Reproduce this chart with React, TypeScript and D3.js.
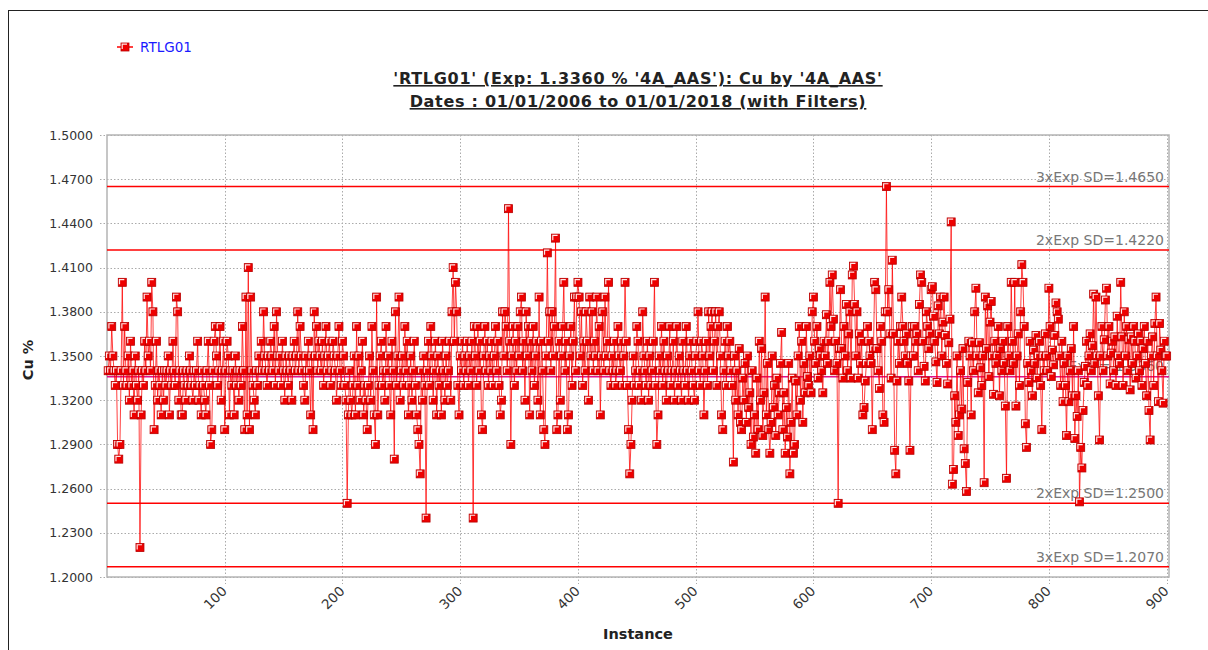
import React from "react";
import * as d3 from "d3";

// Cu % readings for standard RTLG01, by instance (1..900)
const cu001to100 = [
  1.34, 1.35, 1.34, 1.37, 1.35, 1.34, 1.33, 1.34, 1.29, 1.28,
  1.29, 1.34, 1.40, 1.33, 1.37, 1.34, 1.33, 1.35, 1.32, 1.36,
  1.33, 1.34, 1.31, 1.35, 1.33, 1.32, 1.34, 1.22, 1.31, 1.34,
  1.33, 1.36, 1.34, 1.39, 1.35, 1.36, 1.34, 1.40, 1.38, 1.30,
  1.33, 1.36, 1.32, 1.34, 1.33, 1.31, 1.34, 1.32, 1.34, 1.33,
  1.34, 1.35, 1.31, 1.34, 1.33, 1.36, 1.34, 1.33, 1.39, 1.38,
  1.32, 1.34, 1.31, 1.31, 1.34, 1.33, 1.32, 1.34, 1.33, 1.35,
  1.34, 1.33, 1.32, 1.34, 1.33, 1.34, 1.36, 1.32, 1.33, 1.31,
  1.34, 1.33, 1.32, 1.31, 1.34, 1.36, 1.33, 1.29, 1.30, 1.34,
  1.36, 1.37, 1.35, 1.33, 1.34, 1.37, 1.32, 1.34, 1.36, 1.30,
];
const cu101to200 = [
  1.34, 1.36, 1.35, 1.31, 1.34, 1.33, 1.34, 1.31, 1.35, 1.33,
  1.34, 1.32, 1.34, 1.33, 1.37, 1.34, 1.30, 1.39, 1.31, 1.41,
  1.30, 1.39, 1.34, 1.33, 1.32, 1.31, 1.34, 1.33, 1.35, 1.34,
  1.36, 1.34, 1.38, 1.35, 1.34, 1.33, 1.35, 1.34, 1.36, 1.35,
  1.34, 1.37, 1.33, 1.38, 1.35, 1.34, 1.35, 1.33, 1.36, 1.34,
  1.32, 1.35, 1.34, 1.33, 1.35, 1.34, 1.32, 1.35, 1.36, 1.34,
  1.35, 1.38, 1.34, 1.37, 1.35, 1.34, 1.33, 1.32, 1.35, 1.34,
  1.36, 1.34, 1.31, 1.35, 1.30, 1.38, 1.35, 1.37, 1.34, 1.36,
  1.35, 1.34, 1.36, 1.33, 1.35, 1.37, 1.34, 1.35, 1.36, 1.33,
  1.34, 1.36, 1.35, 1.34, 1.32, 1.35, 1.37, 1.34, 1.33, 1.36,
];
const cu201to300 = [
  1.35, 1.33, 1.32, 1.25, 1.31, 1.34, 1.32, 1.31, 1.33, 1.35,
  1.31, 1.37, 1.33, 1.35, 1.32, 1.34, 1.36, 1.31, 1.33, 1.32,
  1.30, 1.33, 1.35, 1.32, 1.37, 1.34, 1.31, 1.29, 1.39, 1.31,
  1.33, 1.35, 1.36, 1.33, 1.34, 1.32, 1.37, 1.34, 1.35, 1.33,
  1.31, 1.36, 1.34, 1.28, 1.38, 1.33, 1.35, 1.39, 1.32, 1.34,
  1.35, 1.33, 1.37, 1.34, 1.36, 1.31, 1.33, 1.35, 1.32, 1.34,
  1.36, 1.33, 1.31, 1.30, 1.29, 1.27, 1.34, 1.32, 1.35, 1.33,
  1.24, 1.34, 1.36, 1.33, 1.37, 1.35, 1.32, 1.34, 1.36, 1.31,
  1.35, 1.33, 1.34, 1.31, 1.36, 1.34, 1.32, 1.35, 1.33, 1.34,
  1.36, 1.32, 1.38, 1.41, 1.36, 1.40, 1.38, 1.33, 1.31, 1.35,
];
const cu301to400 = [
  1.34, 1.36, 1.33, 1.35, 1.34, 1.36, 1.33, 1.35, 1.34, 1.36,
  1.24, 1.37, 1.35, 1.33, 1.37, 1.34, 1.36, 1.31, 1.30, 1.35,
  1.37, 1.34, 1.36, 1.33, 1.35, 1.34, 1.36, 1.33, 1.35, 1.37,
  1.34, 1.36, 1.33, 1.31, 1.32, 1.38, 1.35, 1.38, 1.37, 1.34,
  1.45, 1.36, 1.29, 1.35, 1.37, 1.33, 1.36, 1.34, 1.37, 1.35,
  1.38, 1.39, 1.34, 1.36, 1.32, 1.38, 1.35, 1.37, 1.31, 1.36,
  1.34, 1.37, 1.33, 1.35, 1.36, 1.32, 1.39, 1.31, 1.36, 1.34,
  1.30, 1.29, 1.35, 1.42, 1.36, 1.38, 1.34, 1.38, 1.35, 1.37,
  1.43, 1.30, 1.31, 1.36, 1.32, 1.35, 1.37, 1.40, 1.34, 1.36,
  1.30, 1.31, 1.35, 1.37, 1.33, 1.36, 1.39, 1.34, 1.39, 1.40,
];
const cu401to500 = [
  1.39, 1.35, 1.38, 1.33, 1.36, 1.34, 1.38, 1.36, 1.32, 1.39,
  1.35, 1.38, 1.34, 1.36, 1.35, 1.39, 1.34, 1.37, 1.31, 1.35,
  1.38, 1.34, 1.39, 1.35, 1.36, 1.40, 1.34, 1.33, 1.35, 1.34,
  1.36, 1.33, 1.34, 1.37, 1.35, 1.34, 1.36, 1.33, 1.35, 1.40,
  1.36, 1.33, 1.30, 1.27, 1.29, 1.32, 1.35, 1.33, 1.34, 1.37,
  1.36, 1.33, 1.34, 1.32, 1.38, 1.35, 1.34, 1.33, 1.36, 1.32,
  1.35, 1.33, 1.34, 1.36, 1.40, 1.33, 1.29, 1.31, 1.35, 1.34,
  1.37, 1.33, 1.36, 1.34, 1.32, 1.35, 1.34, 1.37, 1.33, 1.34,
  1.36, 1.32, 1.34, 1.37, 1.33, 1.35, 1.34, 1.32, 1.36, 1.34,
  1.33, 1.37, 1.34, 1.32, 1.35, 1.36, 1.34, 1.33, 1.32, 1.35,
];
const cu501to600 = [
  1.36, 1.38, 1.34, 1.33, 1.36, 1.35, 1.31, 1.34, 1.36, 1.33,
  1.38, 1.35, 1.37, 1.38, 1.34, 1.36, 1.38, 1.33, 1.37, 1.38,
  1.35, 1.31, 1.30, 1.34, 1.36, 1.33, 1.37, 1.35, 1.36, 1.34,
  1.33, 1.278, 1.35, 1.32, 1.34, 1.31, 1.355, 1.305, 1.30, 1.335,
  1.32, 1.345, 1.305, 1.35, 1.315, 1.325, 1.29, 1.34, 1.295, 1.31,
  1.284, 1.335, 1.30, 1.36, 1.32, 1.355, 1.296, 1.325, 1.39, 1.31,
  1.345, 1.30, 1.284, 1.305, 1.35, 1.315, 1.33, 1.296, 1.335, 1.31,
  1.325, 1.345, 1.366, 1.30, 1.325, 1.284, 1.315, 1.295, 1.345, 1.27,
  1.305, 1.335, 1.284, 1.29, 1.333, 1.31, 1.35, 1.37, 1.32, 1.36,
  1.305, 1.345, 1.325, 1.37, 1.336, 1.33, 1.35, 1.325, 1.38, 1.39,
];
const cu601to700 = [
  1.36, 1.345, 1.37, 1.335, 1.355, 1.35, 1.34, 1.325, 1.36, 1.35,
  1.378, 1.345, 1.36, 1.40, 1.37, 1.405, 1.375, 1.34, 1.36, 1.345,
  1.25, 1.355, 1.395, 1.355, 1.335, 1.37, 1.35, 1.385, 1.34, 1.365,
  1.38, 1.335, 1.405, 1.411, 1.385, 1.35, 1.38, 1.335, 1.365, 1.345,
  1.36, 1.31, 1.315, 1.333, 1.345, 1.37, 1.36, 1.35, 1.345, 1.30,
  1.355, 1.40, 1.395, 1.355, 1.34, 1.328, 1.37, 1.36, 1.31, 1.305,
  1.38, 1.465, 1.38, 1.395, 1.365, 1.335, 1.415, 1.365, 1.286, 1.27,
  1.333, 1.36, 1.345, 1.37, 1.39, 1.37, 1.36, 1.35, 1.365, 1.345,
  1.333, 1.286, 1.35, 1.37, 1.35, 1.37, 1.36, 1.365, 1.34, 1.385,
  1.405, 1.40, 1.36, 1.343, 1.333, 1.38, 1.37, 1.355, 1.365, 1.395,
];
const cu701to800 = [
  1.397, 1.377, 1.36, 1.346, 1.332, 1.384, 1.365, 1.39, 1.35, 1.373,
  1.39, 1.364, 1.345, 1.331, 1.359, 1.375, 1.441, 1.263, 1.273, 1.323,
  1.305, 1.35, 1.296, 1.31, 1.34, 1.314, 1.355, 1.287, 1.277, 1.258,
  1.332, 1.36, 1.35, 1.31, 1.359, 1.34, 1.38, 1.396, 1.35, 1.325,
  1.359, 1.342, 1.33, 1.35, 1.264, 1.39, 1.355, 1.384, 1.336, 1.373,
  1.387, 1.35, 1.324, 1.36, 1.345, 1.35, 1.37, 1.323, 1.355, 1.34,
  1.36, 1.345, 1.316, 1.267, 1.37, 1.35, 1.34, 1.40, 1.36, 1.345,
  1.40, 1.316, 1.35, 1.365, 1.33, 1.38, 1.412, 1.40, 1.37, 1.304,
  1.288, 1.345, 1.332, 1.36, 1.34, 1.323, 1.354, 1.345, 1.364, 1.335,
  1.35, 1.36, 1.33, 1.30, 1.35, 1.34, 1.365, 1.35, 1.34, 1.396,
];
const cu801to900 = [
  1.37, 1.336, 1.354, 1.344, 1.364, 1.386, 1.38, 1.375, 1.35, 1.33,
  1.36, 1.319, 1.345, 1.33, 1.296, 1.35, 1.319, 1.34, 1.355, 1.323,
  1.37, 1.294, 1.323, 1.309, 1.34, 1.251, 1.288, 1.274, 1.313, 1.332,
  1.343, 1.36, 1.33, 1.35, 1.365, 1.34, 1.357, 1.392, 1.345, 1.39,
  1.35, 1.323, 1.293, 1.35, 1.37, 1.34, 1.361, 1.388, 1.396, 1.35,
  1.37, 1.331, 1.352, 1.36, 1.34, 1.363, 1.33, 1.377, 1.35, 1.345,
  1.40, 1.363, 1.33, 1.38, 1.35, 1.37, 1.34, 1.361, 1.327, 1.363,
  1.345, 1.37, 1.36, 1.335, 1.35, 1.365, 1.34, 1.36, 1.33, 1.355,
  1.37, 1.345, 1.323, 1.36, 1.313, 1.293, 1.35, 1.363, 1.33, 1.372,
  1.39, 1.35, 1.319, 1.372, 1.354, 1.34, 1.318, 1.36, 1.35, 1.35,
];

const seriesName = "RTLG01";
const expValue = 1.336;
const controlLimits = [
  { label: "3xExp SD", value: 1.465 },
  { label: "2xExp SD", value: 1.422 },
  { label: "2xExp SD", value: 1.25 },
  { label: "3xExp SD", value: 1.207 },
];
const yTicks = [1.2, 1.23, 1.26, 1.29, 1.32, 1.35, 1.38, 1.41, 1.44, 1.47, 1.5];
const xTicks = [100, 200, 300, 400, 500, 600, 700, 800, 900];
const titleLines = [
  "'RTLG01' (Exp: 1.3360 % '4A_AAS'): Cu by '4A_AAS'",
  "Dates : 01/01/2006 to 01/01/2018 (with Filters)",
];

const cuValues = [
  ...cu001to100, ...cu101to200, ...cu201to300, ...cu301to400, ...cu401to500,
  ...cu501to600, ...cu601to700, ...cu701to800, ...cu801to900,
];
const points = cuValues.map((v, i) => ({ instance: i + 1, value: v }));

const W = 1208;
const H = 650;
const plot = { left: 107, right: 1169, top: 135, bottom: 577 };
const FONT = "'DejaVu Sans', Verdana, sans-serif";

function Marker({ x, y, size = 8 }: { x: number; y: number; size?: number }) {
  const h = size / 2;
  return (
    <g transform={`translate(${x},${y})`}>
      <rect x={-h} y={-h} width={size} height={size} fill="#ee0000" stroke="#b80000" strokeWidth={0.8} />
      <path d={`M${-h + 1.2},${h - 2} V${-h + 1.2} H${h - 2}`} fill="none" stroke="#ffffff" strokeWidth={1.2} opacity={0.9} />
    </g>
  );
}

export default function App() {
  const x = d3.scaleLinear().domain([0, 902]).range([plot.left, plot.right]);
  const y = d3.scaleLinear().domain([1.2, 1.5]).range([plot.bottom, plot.top]);
  const line = d3
    .line<{ instance: number; value: number }>()
    .x((d) => x(d.instance))
    .y((d) => y(d.value));

  const labelRight = plot.right - 5;

  return (
    <svg width={W} height={H} style={{ position: "absolute", left: 0, top: 0, background: "#fff" }}>
      {/* outer frame */}
      <rect x={8.5} y={10.5} width={W + 20} height={H + 20} fill="none" stroke="#222" strokeWidth={1} />

      {/* legend */}
      <g transform="translate(117,47)">
        <line x1={0} x2={16} y1={0} y2={0} stroke="#f00" strokeWidth={1.5} />
        <Marker x={8} y={0} size={8} />
        <text x={23} y={5} fontFamily={FONT} fontSize={13.5} fill="#1a1aff">{seriesName}</text>
      </g>

      {/* title */}
      {titleLines.map((t, i) => (
        <text
          key={i}
          x={638}
          y={84 + i * 23}
          textAnchor="middle"
          fontFamily={FONT}
          fontWeight="bold"
          fontSize={16}
          letterSpacing={0.7}
          fill="#222"
          textDecoration="underline"
        >
          {t}
        </text>
      ))}

      {/* gridlines */}
      {yTicks.map((t) => (
        <line
          key={`gy${t}`}
          x1={plot.left - 7}
          x2={plot.right}
          y1={Math.round(y(t)) + 0.5}
          y2={Math.round(y(t)) + 0.5}
          stroke="#aaa"
          strokeDasharray="1.5,2"
        />
      ))}
      {xTicks.map((t) => (
        <line
          key={`gx${t}`}
          x1={Math.round(x(t)) + 0.5}
          x2={Math.round(x(t)) + 0.5}
          y1={plot.top}
          y2={plot.bottom + 7}
          stroke="#aaa"
          strokeDasharray="1.5,2"
        />
      ))}

      {/* plot frame */}
      <rect
        x={plot.left}
        y={plot.top}
        width={plot.right - plot.left}
        height={plot.bottom - plot.top}
        fill="none"
        stroke="#b4b4b4"
        strokeWidth={1.5}
      />

      {/* y tick labels */}
      {yTicks.map((t) => (
        <text
          key={`ty${t}`}
          x={93}
          y={y(t) + 4.5}
          textAnchor="end"
          fontFamily={FONT}
          fontSize={12.5}
          fill="#333"
        >
          {t.toFixed(4)}
        </text>
      ))}

      {/* x tick labels */}
      {xTicks.map((t) => (
        <text
          key={`tx${t}`}
          transform={`translate(${x(t) + 3},${plot.bottom + 15}) rotate(-45)`}
          textAnchor="end"
          fontFamily={FONT}
          fontSize={13.5}
          fill="#333"
        >
          {t}
        </text>
      ))}

      {/* axis titles */}
      <text x={638} y={639} textAnchor="middle" fontFamily={FONT} fontWeight="bold" fontSize={14.5} fill="#222">
        Instance
      </text>
      <text
        transform={`translate(33,${(plot.top + plot.bottom) / 2 + 4}) rotate(-90)`}
        textAnchor="middle"
        fontFamily={FONT}
        fontWeight="bold"
        fontSize={14.5}
        fill="#222"
      >
        Cu %
      </text>

      {/* control limit lines and labels */}
      {controlLimits.map((c, i) => (
        <g key={`cl${i}`}>
          <line x1={plot.left} x2={plot.right} y1={y(c.value)} y2={y(c.value)} stroke="#f00" strokeWidth={1.5} />
          <text
            x={labelRight}
            y={y(c.value) - 5}
            textAnchor="end"
            fontFamily={FONT}
            fontSize={14}
            fill="#777"
          >
            {`${c.label}=${c.value.toFixed(4)}`}
          </text>
        </g>
      ))}
      <line x1={plot.left} x2={plot.right} y1={y(expValue)} y2={y(expValue)} stroke="#e0108a" strokeWidth={1.5} />
      <text x={labelRight} y={y(expValue) - 6} textAnchor="end" fontFamily={FONT} fontSize={14} fill="#777">
        {`Exp = ${expValue.toFixed(4)}`}
      </text>

      {/* series */}
      <path d={line(points) ?? ""} fill="none" stroke="#ff0000" strokeWidth={1} strokeOpacity={0.75} />
      {points.map((p) => (
        <Marker key={p.instance} x={x(p.instance)} y={y(p.value)} />
      ))}
    </svg>
  );
}
